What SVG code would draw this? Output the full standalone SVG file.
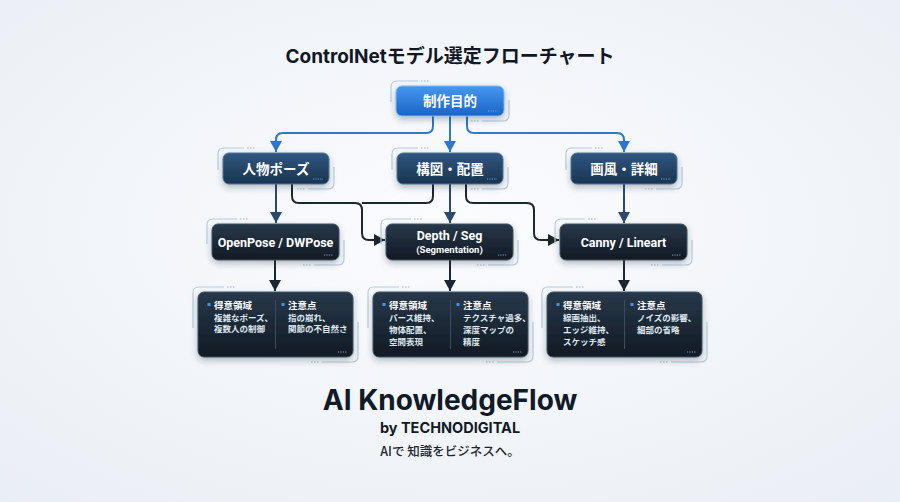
<svg xmlns="http://www.w3.org/2000/svg" width="900" height="502" viewBox="0 0 900 502">
<defs>
<radialGradient id="bg" cx="50%" cy="45%" r="75%">
<stop offset="0" stop-color="#fbfcfe"/>
<stop offset="1" stop-color="#e9eef4"/>
</radialGradient>
<linearGradient id="gBlue" x1="0" y1="0" x2="0" y2="1">
<stop offset="0" stop-color="#4598ef"/>
<stop offset="1" stop-color="#1b63c6"/>
</linearGradient>
<linearGradient id="gNavy" x1="0" y1="0" x2="0" y2="1">
<stop offset="0" stop-color="#30577f"/>
<stop offset="1" stop-color="#1a3350"/>
</linearGradient>
<linearGradient id="gDark" x1="0" y1="0" x2="0" y2="1">
<stop offset="0" stop-color="#273849"/>
<stop offset="1" stop-color="#111a24"/>
</linearGradient>
<filter id="sh" x="-20%" y="-30%" width="140%" height="170%">
<feDropShadow dx="0" dy="3" stdDeviation="3" flood-color="#1a2a3a" flood-opacity="0.3"/>
</filter>
<marker id="aBlue" markerUnits="userSpaceOnUse" markerWidth="12" markerHeight="12" viewBox="0 0 12 12" refX="11" refY="6" orient="auto">
<path d="M0,0 L11,6 L0,12 z" fill="#2c78d0"/>
</marker>
<marker id="aNavy" markerUnits="userSpaceOnUse" markerWidth="12" markerHeight="12" viewBox="0 0 12 12" refX="11" refY="6" orient="auto">
<path d="M0,0 L11,6 L0,12 z" fill="#2b4a6b"/>
</marker>
<marker id="aDark" markerUnits="userSpaceOnUse" markerWidth="12" markerHeight="12" viewBox="0 0 12 12" refX="11" refY="6" orient="auto">
<path d="M0,0 L11,6 L0,12 z" fill="#1c2631"/>
</marker>
<style>
.halo{fill:none;stroke:#b6cbe0;stroke-width:1.2}
.dots{fill:none;stroke:#9db6cc;stroke-width:1.2;stroke-dasharray:1.5 1.5}
.idots{fill:none;stroke:#6fa8e0;stroke-width:1;stroke-dasharray:1.2 1.2}
.cBlue{fill:none;stroke:#2c78d0;stroke-width:2}
.cNavy{fill:none;stroke:#2b4a6b;stroke-width:2}
.cDark{fill:none;stroke:#1c2631;stroke-width:2}
.nt{font-family:"Noto Sans CJK JP",sans-serif;font-weight:700;font-size:13.5px;fill:#ffffff;text-anchor:middle}
.lt{font-family:Roboto,"Noto Sans CJK JP",sans-serif;font-weight:700;font-size:12.5px;fill:#ffffff;text-anchor:middle}
.hd{font-family:"Noto Sans CJK JP",sans-serif;font-weight:700;font-size:9.5px;fill:#ffffff}
.bd{font-family:"Noto Sans CJK JP",sans-serif;font-weight:700;font-size:8.5px;fill:#dfe7ef}
.div{stroke:#3b4c5e;stroke-width:1}
.bul{fill:#4a90e2}
</style>
</defs>
<rect x="0" y="0" width="900" height="502" fill="url(#bg)"/>

<text x="450" y="63" text-anchor="middle" font-family="Inter,'Noto Sans CJK JP',sans-serif" font-weight="700" font-size="19" fill="#111824">ControlNetモデル選定フローチャート</text>

<g id="connectors">
<path class="cBlue" d="M433,116 V126 Q433,133 426,133 H283 Q276,133 276,140 V152" marker-end="url(#aBlue)"/>
<path class="cBlue" d="M450,116 V152" marker-end="url(#aBlue)"/>
<path class="cBlue" d="M467,116 V126 Q467,133 474,133 H617 Q624,133 624,140 V152" marker-end="url(#aBlue)"/>
<path class="cNavy" d="M276,184 V223" marker-end="url(#aNavy)"/>
<path class="cNavy" d="M450,184 V223" marker-end="url(#aNavy)"/>
<path class="cNavy" d="M624,184 V223" marker-end="url(#aNavy)"/>
<path class="cDark" d="M292,184 V196 Q292,203 299,203 H355 Q362,203 362,210 V233 Q362,240 369,240 H385" marker-end="url(#aDark)"/>
<path class="cDark" d="M433,184 V196 Q433,203 426,203 H362"/>
<path class="cDark" d="M466,184 V196 Q466,203 473,203 H527 Q534,203 534,210 V233 Q534,240 541,240 H559" marker-end="url(#aDark)"/>
<path class="cDark" d="M275,260 V291" marker-end="url(#aDark)"/>
<path class="cDark" d="M450,260 V291" marker-end="url(#aDark)"/>
<path class="cDark" d="M624,260 V291" marker-end="url(#aDark)"/>
</g>

<g id="n-purpose">
<path class="halo" d="M391,102 V87 Q391,81 397,81 H418"/><path class="dots" d="M421,81 h8"/>
<path class="halo" d="M482,121 H503 Q509,121 509,115 V100"/><path class="dots" d="M471,121 h8"/>
<rect x="396" y="86" width="108" height="30" rx="6" fill="url(#gBlue)" stroke="#7ab8f5" filter="url(#sh)"/>
<path class="idots" d="M488,111 h10"/>
<text class="nt" x="450" y="105.5">制作目的</text>
</g>

<g id="n-pose">
<path class="halo" d="M218,170 V154 Q218,148 224,148 H244"/><path class="dots" d="M247,148 h8"/>
<path class="halo" d="M308,189 H328 Q334,189 334,183 V167"/><path class="dots" d="M297,189 h8"/>
<rect x="223" y="153" width="106" height="31" rx="6" fill="url(#gNavy)" stroke="#4f7399" filter="url(#sh)"/>
<path class="idots" d="M313,179 h10"/>
<text class="nt" x="276" y="173.5">人物ポーズ</text>
</g>

<g id="n-layout">
<path class="halo" d="M392,170 V154 Q392,148 398,148 H418"/><path class="dots" d="M421,148 h8"/>
<path class="halo" d="M482,189 H502 Q508,189 508,183 V167"/><path class="dots" d="M471,189 h8"/>
<rect x="397" y="153" width="106" height="31" rx="6" fill="url(#gNavy)" stroke="#4f7399" filter="url(#sh)"/>
<path class="idots" d="M487,179 h10"/>
<text class="nt" x="450" y="173.5">構図・配置</text>
</g>

<g id="n-style">
<path class="halo" d="M566,170 V154 Q566,148 572,148 H592"/><path class="dots" d="M595,148 h8"/>
<path class="halo" d="M656,189 H676 Q682,189 682,183 V167"/><path class="dots" d="M645,189 h8"/>
<rect x="571" y="153" width="106" height="31" rx="6" fill="url(#gNavy)" stroke="#4f7399" filter="url(#sh)"/>
<path class="idots" d="M661,179 h10"/>
<text class="nt" x="624" y="173.5">画風・詳細</text>
</g>

<g id="n-openpose">
<path class="halo" d="M207,244 V225 Q207,219 213,219 H237"/><path class="dots" d="M240,219 h8"/>
<path class="halo" d="M314,265 H338 Q344,265 344,259 V240"/><path class="dots" d="M303,265 h8"/>
<rect x="212" y="224" width="127" height="36" rx="6" fill="url(#gDark)" stroke="#3f5367" filter="url(#sh)"/>
<path class="idots" d="M324,255 h9"/>
<text class="lt" x="275.5" y="246.5">OpenPose / DWPose</text>
</g>

<g id="n-depth">
<path class="halo" d="M381,244 V225 Q381,219 387,219 H411"/><path class="dots" d="M414,219 h8"/>
<path class="halo" d="M488,265 H512 Q518,265 518,259 V240"/><path class="dots" d="M477,265 h8"/>
<rect x="386" y="224" width="127" height="36" rx="6" fill="url(#gDark)" stroke="#3f5367" filter="url(#sh)"/>
<path class="idots" d="M498,255 h9"/>
<text class="lt" x="449.5" y="240">Depth / Seg</text>
<text x="449.5" y="253" text-anchor="middle" font-family="Roboto,sans-serif" font-weight="700" font-size="9.5" fill="#ffffff">(Segmentation)</text>
</g>

<g id="n-canny">
<path class="halo" d="M555,244 V225 Q555,219 561,219 H585"/><path class="dots" d="M588,219 h8"/>
<path class="halo" d="M662,265 H686 Q692,265 692,259 V240"/><path class="dots" d="M651,265 h8"/>
<rect x="560" y="224" width="127" height="36" rx="6" fill="url(#gDark)" stroke="#3f5367" filter="url(#sh)"/>
<path class="idots" d="M672,255 h9"/>
<text class="lt" x="623.5" y="246.5">Canny / Lineart</text>
</g>

<g id="d-openpose">
<path class="halo" d="M193,328 V293 Q193,287 199,287 H224"/><path class="dots" d="M227,287 h8"/>
<path class="halo" d="M322,362 H352 Q358,362 358,356 V322"/><path class="dots" d="M311,362 h8"/>
<rect x="198" y="292" width="155" height="65" rx="6" fill="url(#gDark)" stroke="#3f5367" filter="url(#sh)"/>
<line class="div" x1="275.5" y1="300" x2="275.5" y2="349"/>
<rect class="bul" x="207.5" y="303" width="3" height="3"/>
<text class="hd" x="214" y="308.5">得意領域</text>
<text class="bd" x="214" y="321">複雑なポーズ、</text>
<text class="bd" x="214" y="332">複数人の制御</text>
<rect class="bul" x="281.5" y="303" width="3" height="3"/>
<text class="hd" x="288" y="308.5">注意点</text>
<text class="bd" x="288" y="321">指の崩れ、</text>
<text class="bd" x="288" y="332">関節の不自然さ</text>
<path class="idots" d="M338,352 h9"/>
</g>

<g id="d-depth">
<path class="halo" d="M368,328 V293 Q368,287 374,287 H399"/><path class="dots" d="M402,287 h8"/>
<path class="halo" d="M497,362 H527 Q533,362 533,356 V322"/><path class="dots" d="M486,362 h8"/>
<rect x="373" y="292" width="155" height="65" rx="6" fill="url(#gDark)" stroke="#3f5367" filter="url(#sh)"/>
<line class="div" x1="450.5" y1="300" x2="450.5" y2="349"/>
<rect class="bul" x="382.5" y="303" width="3" height="3"/>
<text class="hd" x="389" y="308.5">得意領域</text>
<text class="bd" x="389" y="321">パース維持、</text>
<text class="bd" x="389" y="333">物体配置、</text>
<text class="bd" x="389" y="345">空間表現</text>
<rect class="bul" x="456.5" y="303" width="3" height="3"/>
<text class="hd" x="463" y="308.5">注意点</text>
<text class="bd" x="463" y="321">テクスチャ過多、</text>
<text class="bd" x="463" y="333">深度マップの</text>
<text class="bd" x="463" y="345">精度</text>
<path class="idots" d="M513,352 h9"/>
</g>

<g id="d-canny">
<path class="halo" d="M542,328 V293 Q542,287 548,287 H573"/><path class="dots" d="M576,287 h8"/>
<path class="halo" d="M671,362 H701 Q707,362 707,356 V322"/><path class="dots" d="M660,362 h8"/>
<rect x="547" y="292" width="155" height="65" rx="6" fill="url(#gDark)" stroke="#3f5367" filter="url(#sh)"/>
<line class="div" x1="624.5" y1="300" x2="624.5" y2="349"/>
<rect class="bul" x="556.5" y="303" width="3" height="3"/>
<text class="hd" x="563" y="308.5">得意領域</text>
<text class="bd" x="563" y="321">線画抽出、</text>
<text class="bd" x="563" y="333">エッジ維持、</text>
<text class="bd" x="563" y="345">スケッチ感</text>
<rect class="bul" x="630.5" y="303" width="3" height="3"/>
<text class="hd" x="637" y="308.5">注意点</text>
<text class="bd" x="637" y="321">ノイズの影響、</text>
<text class="bd" x="637" y="333">細部の省略</text>
<path class="idots" d="M687,352 h9"/>
</g>

<text x="450" y="410" text-anchor="middle" font-family="Inter,Roboto,sans-serif" font-weight="700" font-size="28" fill="#111a26">AI KnowledgeFlow</text>
<text x="450" y="433" text-anchor="middle" font-family="Inter,Roboto,sans-serif" font-weight="700" font-size="14.5" fill="#111a26">by TECHNODIGITAL</text>
<text x="450" y="456" text-anchor="middle" font-family="'Noto Sans CJK JP',sans-serif" font-weight="500" font-size="12.5" fill="#1c2430">AIで 知識をビジネスへ。</text>
</svg>
